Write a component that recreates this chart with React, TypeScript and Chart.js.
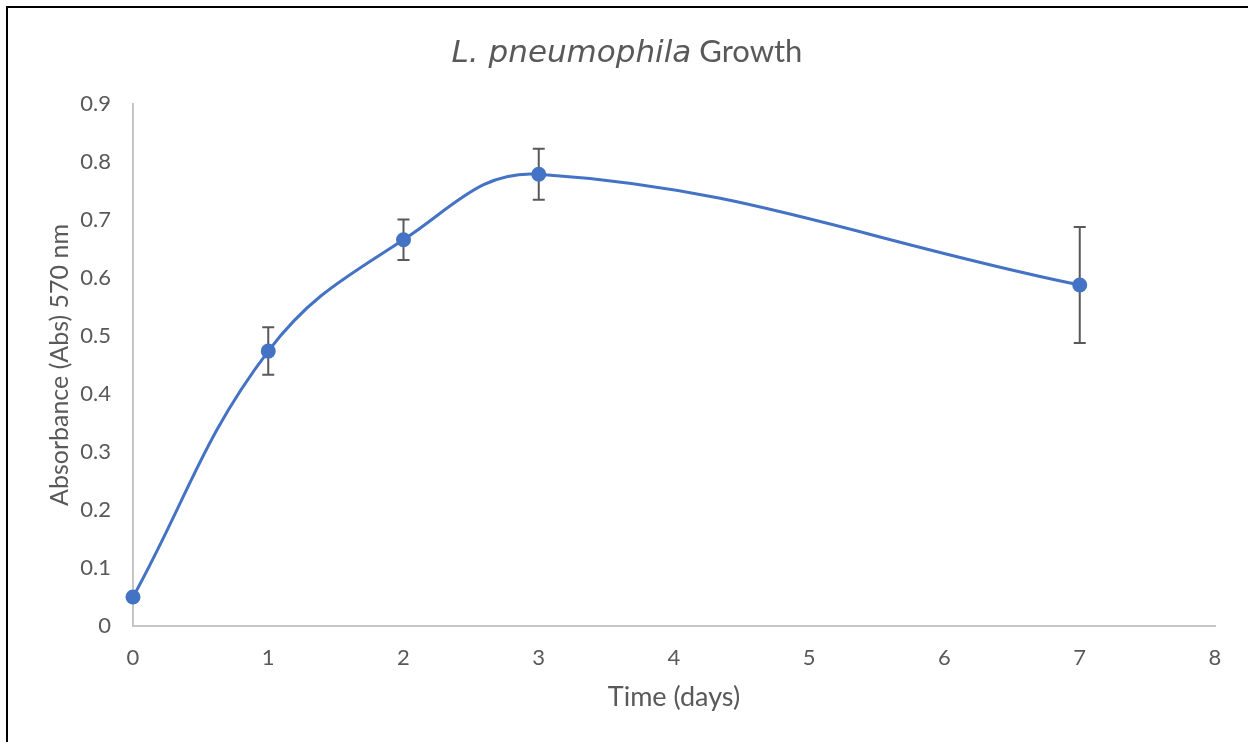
import React, { useEffect, useRef } from "react";
import { Chart, registerables } from "chart.js";

Chart.register(...registerables);

const days = [0, 1, 2, 3, 7];
const absorbance = [0.05, 0.474, 0.666, 0.779, 0.588];
const errors = [0.005, 0.041, 0.035, 0.044, 0.1];
const titleItalic = "L. pneumophila";
const titleRegular = " Growth";
const xTitle = "Time (days)";
const yTitle = "Absorbance (Abs) 570 nm";

const FONT = "Lato, 'Open Sans', sans-serif";
const ITALIC_FONT = "'DejaVu Sans', 'Open Sans', sans-serif";
const TEXT = "#595959";
const AXIS = "#c6c6c6";
const BLUE = "#4472C4";

const titlePlugin = {
  id: "mixedTitle",
  afterDraw(chart: any) {
    const ctx = chart.ctx;
    ctx.save();
    ctx.fillStyle = TEXT;
    ctx.textBaseline = "alphabetic";
    const italicFont = `oblique 31px ${ITALIC_FONT}`;
    const normalFont = `31px ${FONT}`;
    ctx.font = italicFont;
    const w1 = ctx.measureText(titleItalic).width;
    ctx.font = normalFont;
    const w2 = ctx.measureText(titleRegular).width;
    const cx = 627;
    const x0 = cx - (w1 + w2) / 2;
    ctx.textAlign = "left";
    ctx.font = italicFont;
    ctx.fillText(titleItalic, x0, 62);
    ctx.font = normalFont;
    ctx.fillText(titleRegular, x0 + w1, 62);
    ctx.restore();
  },
};

const errorBarPlugin = {
  id: "errorBars",
  beforeDatasetsDraw(chart: any) {
    const ctx = chart.ctx;
    const xs = chart.scales.x;
    const ys = chart.scales.y;
    ctx.save();
    ctx.strokeStyle = TEXT;
    ctx.lineWidth = 2;
    days.forEach((d, i) => {
      const x = xs.getPixelForValue(d);
      const yTop = ys.getPixelForValue(absorbance[i] + errors[i]);
      const yBot = ys.getPixelForValue(absorbance[i] - errors[i]);
      ctx.beginPath();
      ctx.moveTo(x, yTop);
      ctx.lineTo(x, yBot);
      ctx.moveTo(x - 6, yTop);
      ctx.lineTo(x + 6, yTop);
      ctx.moveTo(x - 6, yBot);
      ctx.lineTo(x + 6, yBot);
      ctx.stroke();
    });
    ctx.restore();
  },
};

export default function App() {
  const ref = useRef<HTMLCanvasElement | null>(null);
  useEffect(() => {
    if (!ref.current) return;
    const chart = new Chart(ref.current, {
      type: "scatter",
      data: {
        datasets: [
          {
            data: days.map((d, i) => ({ x: d, y: absorbance[i] })),
            showLine: true,
            borderColor: BLUE,
            backgroundColor: BLUE,
            borderWidth: 3,
            pointRadius: 7.5,
            pointBorderWidth: 0,
            pointBackgroundColor: BLUE,
            tension: 0.4,
            clip: false as any,
          },
        ],
      },
      options: {
        responsive: false,
        animation: false,
        layout: { padding: { left: 0, right: 33, top: 104, bottom: 0 } },
        plugins: {
          legend: { display: false },
          tooltip: { enabled: false },
          title: { display: false },
        },
        scales: {
          x: {
            type: "linear",
            min: 0,
            max: 8,
            afterFit: (s: any) => {
              s.height = 116;
            },
            ticks: {
              stepSize: 1,
              padding: 19,
              color: TEXT,
              font: { family: FONT, size: 22 },
            },
            grid: { display: true, color: "transparent", drawTicks: false },
            border: { display: true, color: AXIS, width: 2 },
            title: {
              display: true,
              text: xTitle,
              color: TEXT,
              font: { family: FONT, size: 27 },
              padding: { top: 0, bottom: 29 },
            },
          },
          y: {
            type: "linear",
            min: 0,
            max: 0.9,
            afterFit: (s: any) => {
              s.width = 133;
            },
            ticks: {
              stepSize: 0.1,
              padding: 22,
              color: TEXT,
              font: { family: FONT, size: 22 },
              callback: (v: any) => (Number(v) === 0 ? "0" : Number(v).toFixed(1)),
            },
            grid: { display: true, color: "transparent", drawTicks: false },
            border: { display: true, color: AXIS, width: 2 },
            title: {
              display: true,
              text: yTitle,
              color: TEXT,
              font: { family: FONT, size: 25 },
              padding: { top: 45, bottom: 0 },
            },
          },
        },
      },
      plugins: [titlePlugin, errorBarPlugin],
    });
    return () => chart.destroy();
  }, []);

  return (
    <div
      style={{
        position: "fixed",
        left: 0,
        top: 0,
        width: 1248,
        height: 742,
        background: "#fff",
        overflow: "hidden",
      }}
    >
      <canvas ref={ref} width={1248} height={742} style={{ display: "block" }} />
      <div
        style={{
          position: "absolute",
          left: 6,
          top: 6,
          width: 1300,
          height: 800,
          borderLeft: "2px solid #000",
          borderTop: "2px solid #000",
          pointerEvents: "none",
        }}
      />
    </div>
  );
}
